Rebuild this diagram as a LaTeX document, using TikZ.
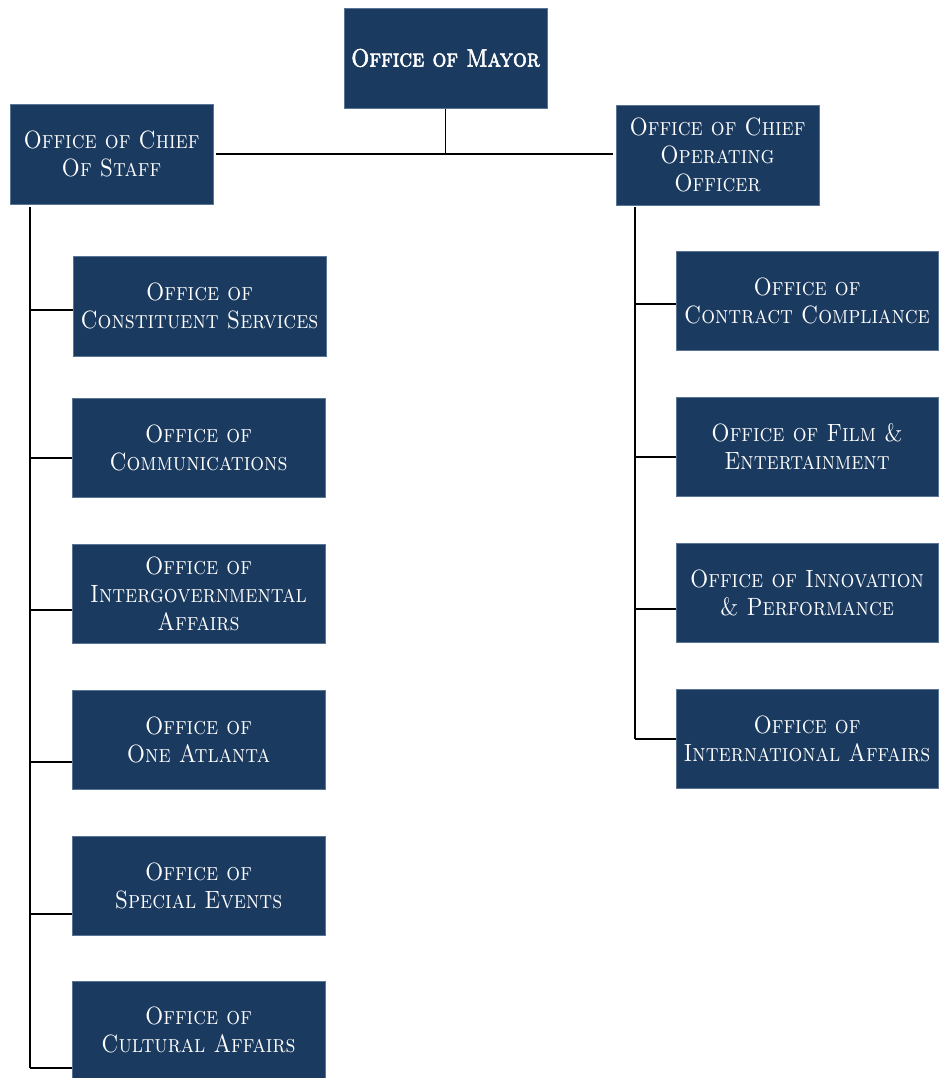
\documentclass[tikz,border=0pt]{standalone}
\usepackage{fontspec}
\newfontfamily\boxfont{lmromancaps10-regular.otf}[FakeStretch=0.87]
\newfontfamily\boxfontbold{lmromancaps10-regular.otf}[FakeStretch=0.87,FakeBold=2.2]
\definecolor{navy}{HTML}{1B3A5F}
\definecolor{boxedge}{HTML}{5A7594}
\begin{document}
\begin{tikzpicture}[x=1pt,y=1pt,
  box/.style={draw=boxedge, line width=0.6pt, fill=navy, text=white,
    font=\boxfont\fontsize{25}{28}\selectfont, align=center, inner sep=0pt,
    minimum height=100pt},
  wideL/.style={box, minimum width=253pt, minimum height=99pt},
  wideR/.style={box, minimum width=262pt, minimum height=99pt},
  link/.style={line width=1.5pt, black}]
\useasboundingbox (0,0) rectangle (938,-1078);

% top level
\node[box, minimum width=203pt, font=\boxfontbold\fontsize{25}{28}\selectfont] (mayor) at (445.5,-58) {Office of Mayor};
\node[box, minimum width=203pt] (cos) at (111.5,-154) {Office of Chief\\Of Staff};
\node[box, minimum width=203pt] (coo) at (717.5,-155) {Office of Chief\\Operating\\Officer};

% left column
\node[wideL, minimum height=100pt] (l1) at (199.5,-306) {Office of\\Constituent Services};
\node[wideL] (l2) at (198.5,-447.5) {Office of\\Communications};
\node[wideL] (l3) at (198.5,-593.5) {Office of\\Intergovernmental\\Affairs};
\node[wideL] (l4) at (198.5,-739.5) {Office of\\One Atlanta};
\node[wideL] (l5) at (198.5,-885.5) {Office of\\Special Events};
\node[wideL, minimum height=97pt] (l6) at (198.5,-1029.5) {Office of\\Cultural Affairs};

% right column
\node[wideR] (r1) at (807,-300.5) {Office of\\Contract Compliance};
\node[wideR] (r2) at (807,-446.5) {Office of Film \&\\Entertainment};
\node[wideR] (r3) at (807,-592.5) {Office of Innovation\\\& Performance};
\node[wideR] (r4) at (807,-738.5) {Office of\\International Affairs};

% connector coordinates
\coordinate (hub) at (445.5,-154);
\coordinate (hubL) at (216,-154);
\coordinate (hubR) at (613,-154);
\coordinate (ltop) at (30,-207);
\coordinate (ls1) at (30,-310);
\coordinate (ls2) at (30,-458);
\coordinate (ls3) at (30,-610);
\coordinate (ls4) at (30,-762);
\coordinate (ls5) at (30,-914);
\coordinate (ls6) at (30,-1068);
\coordinate (rtop) at (635,-207);
\coordinate (rs1) at (635,-304);
\coordinate (rs2) at (635,-457);
\coordinate (rs3) at (635,-609);
\coordinate (rs4) at (635,-739);

% top connectors
\draw[link] ([yshift=-1pt]mayor.south) -- (hub);
\draw[link] (hubL) -- (hubR);

% left trunk
\draw[link] (ltop) -- (ls6);
\foreach \i in {1,...,6} \draw[link] (ls\i) -- (l\i.west |- ls\i);

% right trunk
\draw[link] (rtop) -- (rs4);
\foreach \i in {1,...,4} \draw[link] (rs\i) -- (r\i.west |- rs\i);
\end{tikzpicture}
\end{document}
